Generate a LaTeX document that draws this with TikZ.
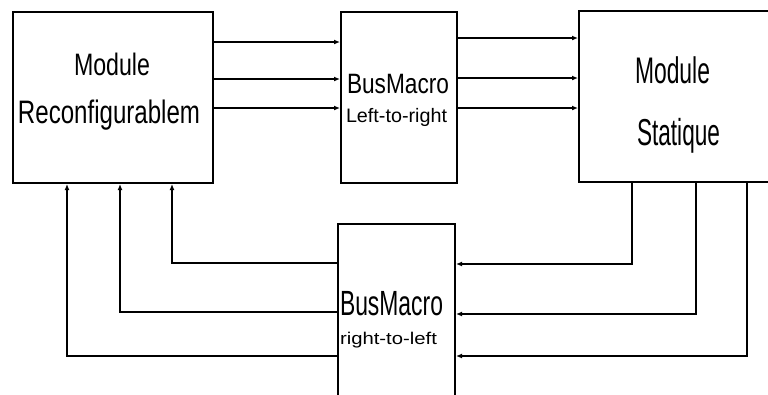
\documentclass[tikz,border=0pt]{standalone}
\usepackage{fontspec}
\setmainfont{Liberation Sans}
\usetikzlibrary{arrows.meta}
\newcommand\fittxt[3]{\resizebox{#2pt}{\height}{\fontsize{#1pt}{#1pt}\selectfont #3}}
\begin{document}
\begin{tikzpicture}[x=1pt,y=-1pt,
  box/.style={draw=black,line width=2pt,fill=white,rectangle,inner sep=0pt,anchor=north west},
  lbl/.style={anchor=base,inner sep=0pt},
  arr/.style={line width=1.6pt,-{Latex[length=6pt,width=5pt]}},
  wire/.style={line width=1.6pt}]
\clip (0,0) rectangle (768,394);
\fill[white] (0,0) rectangle (768,394);
% boxes
\node[box,minimum width=200pt,minimum height=171pt] (R) at (12,11) {};
\node[box,minimum width=116pt,minimum height=171pt] (LR) at (340,11) {};
\node[box,minimum width=210pt,minimum height=171pt] (S) at (578,10) {};
\node[box,minimum width=117pt,minimum height=176pt] (RL) at (337,223) {};
% labels
\node[lbl] (t1) at (112,75) {\fittxt{31}{76}{Module}};
\node[lbl] (t2) at (109,123) {\fittxt{32.5}{182}{Reconfigurablem}};
\node[lbl] (t3) at (398,93) {\fittxt{28}{102}{BusMacro}};
\node[lbl] (t4) at (396.5,122) {\fittxt{19.5}{101}{Left-to-right}};
\node[lbl] (t5) at (672.5,83) {\fittxt{37}{75}{Module}};
\node[lbl] (t6) at (678.5,145) {\fittxt{37.5}{83}{Statique}};
\node[lbl] (t7) at (391.5,315) {\fittxt{35}{103}{BusMacro}};
\node[lbl] (t8) at (388.5,344) {\fittxt{17}{97}{right-to-left}};
% top arrows
\draw[arr] (R.east |- 0,42) -- (LR.west |- 0,42);
\draw[arr] (R.east |- 0,79) -- (LR.west |- 0,79);
\draw[arr] (R.east |- 0,108) -- (LR.west |- 0,108);
\draw[arr] (LR.east |- 0,38) -- (S.west |- 0,38);
\draw[arr] (LR.east |- 0,78) -- (S.west |- 0,78);
\draw[arr] (LR.east |- 0,108) -- (S.west |- 0,108);
% bottom: static -> bus right-to-left
\draw[arr] (S.south -| 632,0) |- (RL.east |- 0,264);
\draw[arr] (S.south -| 696,0) |- (RL.east |- 0,314);
\draw[arr] (S.south -| 747,0) |- (RL.east |- 0,356);
% bus right-to-left -> reconfigurable
\draw[arr] (RL.west |- 0,263) -| (R.south -| 172,0);
\draw[arr] (RL.west |- 0,312) -| (R.south -| 120,0);
\draw[arr] (RL.west |- 0,356) -| (R.south -| 67,0);
\end{tikzpicture}
\end{document}
